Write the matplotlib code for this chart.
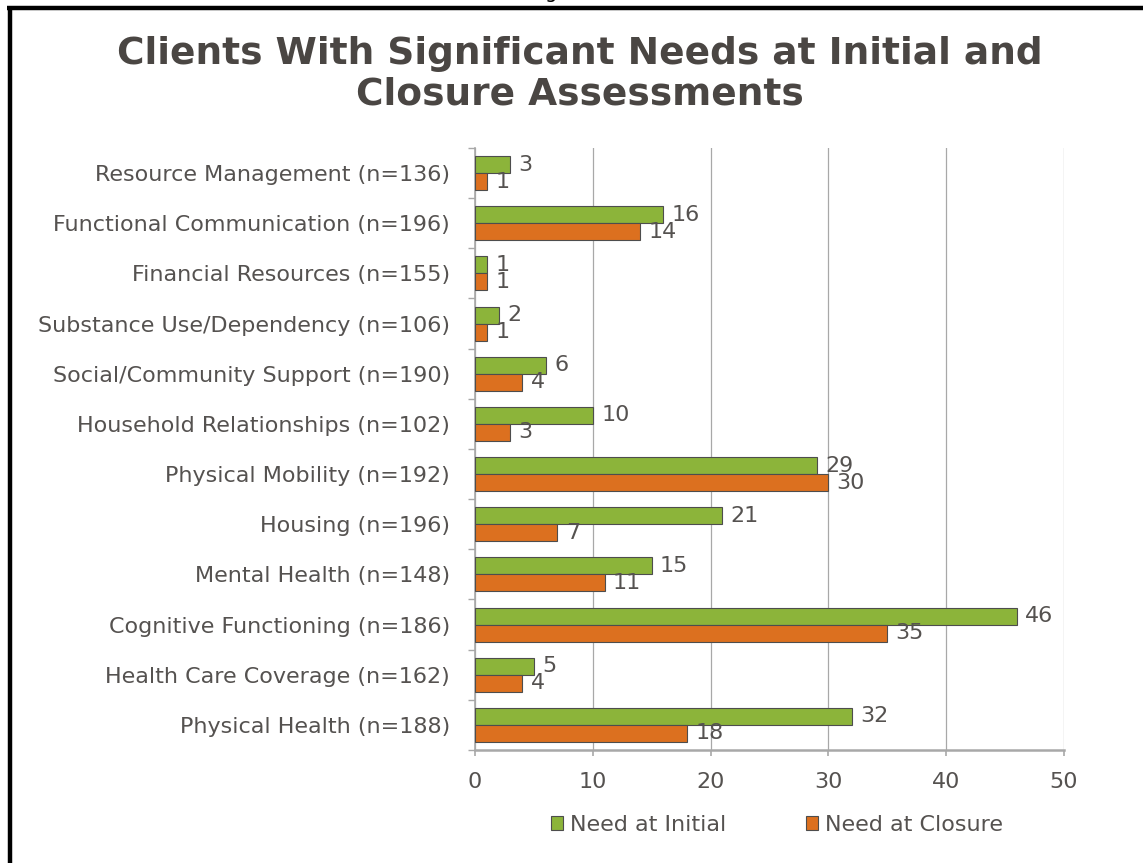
import numpy as np
import matplotlib
matplotlib.use("Agg")
import matplotlib.pyplot as plt
from matplotlib.lines import Line2D
from matplotlib.patches import Patch

categories = [
    "Resource Management (n=136)",
    "Functional Communication (n=196)",
    "Financial Resources (n=155)",
    "Substance Use/Dependency (n=106)",
    "Social/Community Support (n=190)",
    "Household Relationships (n=102)",
    "Physical Mobility (n=192)",
    "Housing (n=196)",
    "Mental Health (n=148)",
    "Cognitive Functioning (n=186)",
    "Health Care Coverage (n=162)",
    "Physical Health (n=188)",
]
need_initial = [3, 16, 1, 2, 6, 10, 29, 21, 15, 46, 5, 32]
need_closure = [1, 14, 1, 1, 4, 3, 30, 7, 11, 35, 4, 18]
x_ticks = [0, 10, 20, 30, 40, 50]
series_names = ["Need at Initial", "Need at Closure"]

GREEN = "#8cb43a"
ORANGE = "#dc701f"
EDGE = "#4d4d4d"
TEXT = "#555250"
TITLE = "#4a4643"
GRID = "#a8a8a8"

W, H = 1143, 863
fig = plt.figure(figsize=(W / 100, H / 100), dpi=100)
fig.patch.set_facecolor("white")

ax = fig.add_axes([475 / W, 1 - 750 / H, (1064 - 475) / W, (750 - 148) / H])

y = np.arange(len(categories))
h = 0.34
b1 = ax.barh(y - h / 2, need_initial, height=h, color=GREEN, edgecolor=EDGE,
             linewidth=0.8, zorder=3)
b2 = ax.barh(y + h / 2, need_closure, height=h, color=ORANGE, edgecolor=EDGE,
             linewidth=0.8, zorder=3)

fs = 16
ax.bar_label(b1, padding=6, fontsize=fs, color=TEXT)
ax.bar_label(b2, padding=6, fontsize=fs, color=TEXT)

ax.set_ylim(len(categories) - 0.5, -0.5)
ax.set_xlim(0, 50)
ax.set_xticks(x_ticks)
ax.set_xticklabels([str(v) for v in x_ticks])
ax.set_yticks(y)
ax.set_yticklabels(categories)
ax.set_yticks(np.arange(len(categories) + 1) - 0.5, minor=True)

ax.tick_params(axis="y", which="major", length=0, pad=18, labelsize=fs,
               labelcolor=TEXT)
ax.tick_params(axis="y", which="minor", length=5, width=1, color=GRID,
               direction="out")
ax.tick_params(axis="x", which="major", length=4, width=1.2, color=GRID,
               direction="out", pad=12, labelsize=fs, labelcolor=TEXT)

ax.xaxis.grid(True, color=GRID, linewidth=0.9, zorder=0)
ax.set_axisbelow(True)
for side in ("top", "right"):
    ax.spines[side].set_visible(False)
ax.spines["left"].set_color(GRID)
ax.spines["left"].set_linewidth(1.2)
ax.spines["bottom"].set_color(GRID)
ax.spines["bottom"].set_linewidth(1.8)

handles = [Patch(facecolor=GREEN, edgecolor=EDGE, linewidth=0.8),
           Patch(facecolor=ORANGE, edgecolor=EDGE, linewidth=0.8)]
fig.legend(handles, series_names, loc="center", ncol=2,
           bbox_to_anchor=(777 / W, 1 - 825 / H), frameon=False,
           fontsize=fs, labelcolor=TEXT, handlelength=0.55,
           handleheight=0.55, handletextpad=0.3, columnspacing=3.6)

fig.text(580 / W, 1 - 74 / H,
         "Clients With Significant Needs at Initial and\nClosure Assessments",
         ha="center", va="center", fontsize=27, fontweight="bold",
         color=TITLE, linespacing=1.15)

# partial glyph cut off along the top edge
fig.text(551 / W, 1 + 1.5 / H, "g", ha="center", va="baseline",
         fontsize=14, color="black")

# frame lines
fig.add_artist(Line2D([7 / W, 1.0], [1 - 8 / H, 1 - 8 / H],
                      color="black", linewidth=3.2,
                      transform=fig.transFigure, solid_capstyle="butt"))
fig.add_artist(Line2D([10 / W, 10 / W], [1 - 6 / H, 0],
                      color="black", linewidth=3.2,
                      transform=fig.transFigure, solid_capstyle="butt"))

fig.savefig("out.png", dpi=100, facecolor="white")
